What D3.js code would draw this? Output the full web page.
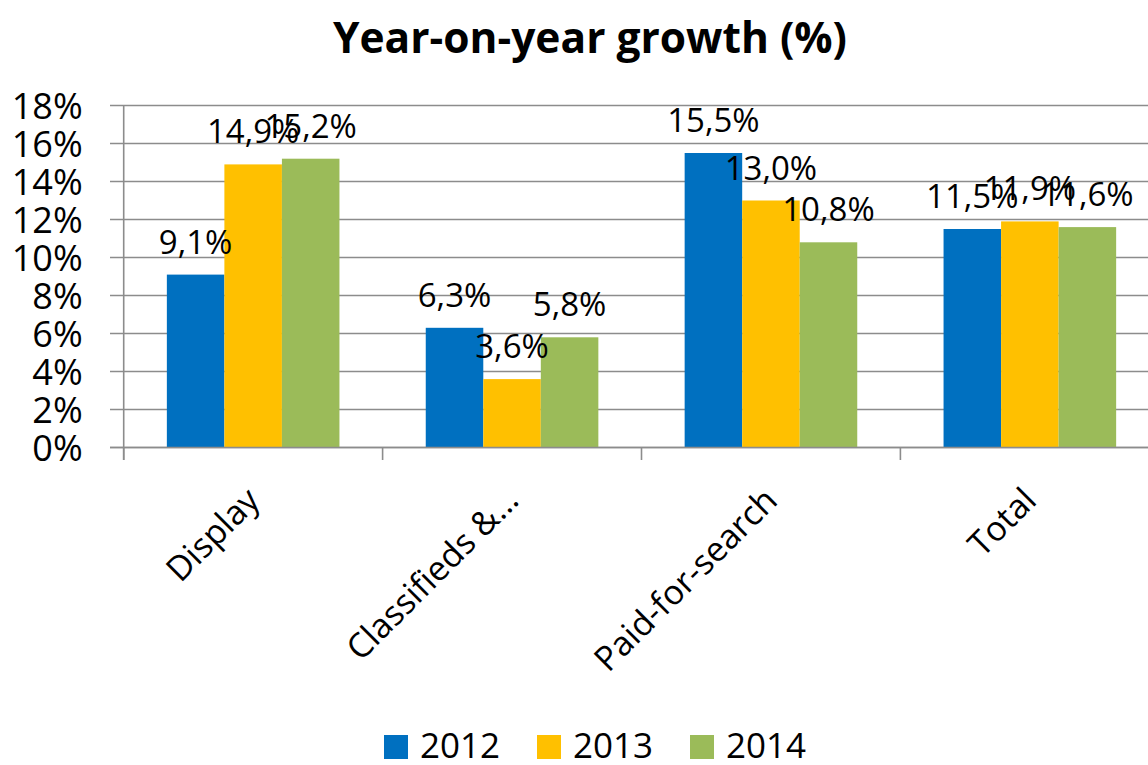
<!DOCTYPE html>
<html>
<head>
<meta charset="utf-8">
<script src="https://cdn.jsdelivr.net/npm/d3@7"></script>
<style>
  html, body { margin: 0; padding: 0; background: #fff; }
  svg { display: block; }
  text { font-family: "Open Sans", "Lato", sans-serif; fill: #000; }
</style>
</head>
<body>
<svg id="chart" width="1148" height="765"></svg>
<script>
const categories = ["Display", "Classifieds &…", "Paid-for-search", "Total"];
const seriesNames = ["2012", "2013", "2014"];
const values2012 = [9.1, 6.3, 15.5, 11.5];
const values2013 = [14.9, 3.6, 13.0, 11.9];
const values2014 = [15.2, 5.8, 10.8, 11.6];
const yTicks = [0, 2, 4, 6, 8, 10, 12, 14, 16, 18];
const colors = ["#0070C0", "#FFC000", "#9BBB59"];
const title = "Year-on-year growth (%)";

const seriesValues = [values2012, values2013, values2014];
const fmt = v => v.toFixed(1).replace(".", ",") + "%";

const svg = d3.select("#chart");
const left = 123.7, bandW = 258.9;
const x = d3.scaleBand().domain(categories).range([left, left + bandW * 4]).paddingInner(0).paddingOuter(0);
const inner = d3.scaleBand().domain(seriesNames).range([0, bandW]).paddingInner(0).paddingOuter(0.75);
const y = d3.scaleLinear().domain([0, 18]).range([447.5, 105.5]);

// title
svg.append("text").attr("x", 590).attr("y", 53).attr("text-anchor", "middle")
  .attr("font-size", 42.5).attr("font-weight", "bold").text(title);

// gridlines
svg.append("g").selectAll("line").data(yTicks).join("line")
  .attr("x1", 110).attr("x2", 1148)
  .attr("y1", d => y(d)).attr("y2", d => y(d))
  .attr("stroke", "#8c8c8c").attr("stroke-width", 1.6);

// y axis
const yAxis = svg.append("g").attr("transform", `translate(${left},0)`)
  .call(d3.axisLeft(y).tickValues(yTicks).tickFormat(d => d + "%").tickSize(0).tickPadding(41));
yAxis.select(".domain").remove();
yAxis.selectAll("text").attr("font-size", 36).attr("font-family", '"Open Sans", sans-serif').attr("fill", "#000").attr("dy", "0.36em");
svg.append("line").attr("x1", left).attr("x2", left).attr("y1", y(18)).attr("y2", 460)
  .attr("stroke", "#8c8c8c").attr("stroke-width", 1.6);

// bars
const groups = svg.append("g").selectAll("g").data(categories).join("g")
  .attr("transform", d => `translate(${x(d)},0)`);
seriesNames.forEach((s, si) => {
  groups.append("rect")
    .attr("x", inner(s)).attr("width", inner.bandwidth())
    .attr("y", (d, i) => y(seriesValues[si][i]))
    .attr("height", (d, i) => y(0) - y(seriesValues[si][i]))
    .attr("fill", colors[si]);
});
seriesNames.forEach((s, si) => {
  groups.append("text")
    .attr("x", inner(s) + inner.bandwidth() / 2)
    .attr("y", (d, i) => y(seriesValues[si][i]) - 21)
    .attr("text-anchor", "middle").attr("font-size", 33)
    .text((d, i) => fmt(seriesValues[si][i]));
});

// x axis
const xAxis = svg.append("g").attr("transform", `translate(0,${y(0)})`)
  .call(d3.axisBottom(x).tickSize(0).tickFormat(""));
xAxis.select(".domain").attr("d", `M${110},0H1148`).attr("stroke", "#8c8c8c").attr("stroke-width", 1.6);
svg.append("g").selectAll("line").data(d3.range(5)).join("line")
  .attr("x1", i => left + i * bandW).attr("x2", i => left + i * bandW)
  .attr("y1", y(0)).attr("y2", 460)
  .attr("stroke", "#8c8c8c").attr("stroke-width", 1.6);
svg.append("g").selectAll("text").data(categories).join("text")
  .attr("transform", d => `translate(${x(d) + x.bandwidth() / 2},494) rotate(-45)`)
  .attr("text-anchor", "end").attr("dy", "0.35em").attr("font-size", 34)
  .text(d => d);

// legend
const legend = svg.append("g").selectAll("g").data(seriesNames).join("g")
  .attr("transform", (d, i) => `translate(${384 + i * 153},735)`);
legend.append("rect").attr("width", 24).attr("height", 24).attr("fill", (d, i) => colors[i]);
legend.append("text").attr("x", 36).attr("y", 23).attr("font-size", 35).text(d => d);
</script>
</body>
</html>
